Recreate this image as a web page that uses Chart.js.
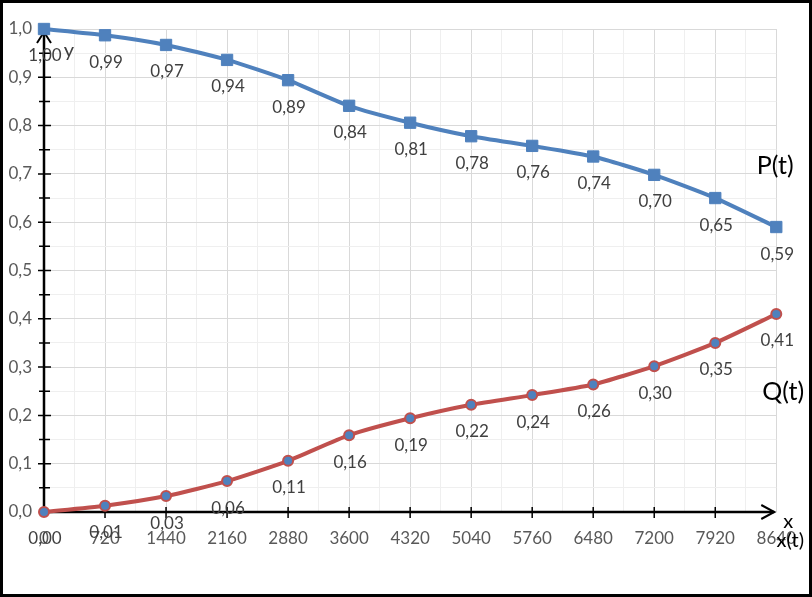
<!DOCTYPE html>
<html>
<head>
<meta charset="utf-8">
<script src="https://cdn.jsdelivr.net/npm/chart.js@4.4.0/dist/chart.umd.min.js"></script>
<style>
html, body { margin: 0; padding: 0; background: #fff; }
</style>
</head>
<body>
<canvas id="chart" width="812" height="597"></canvas>
<script>
// temps (x) et probabilites P(t), Q(t)
const xValues = [0, 720, 1440, 2160, 2880, 3600, 4320, 5040, 5760, 6480, 7200, 7920, 8640];
const pValues = [1.000, 0.987, 0.967, 0.936, 0.894, 0.841, 0.806, 0.778, 0.758, 0.736, 0.698, 0.650, 0.590];
const qValues = [0.000, 0.013, 0.033, 0.064, 0.106, 0.159, 0.194, 0.222, 0.242, 0.264, 0.302, 0.350, 0.410];
const yTickValues = [0, 0.05, 0.1, 0.15, 0.2, 0.25, 0.3, 0.35, 0.4, 0.45, 0.5, 0.55, 0.6, 0.65, 0.7, 0.75, 0.8, 0.85, 0.9, 0.95, 1.0];
const seriesNames = ['P(t)', 'Q(t)'];

const FONT = 'Lato';

function virgule(v, d) {
	return v.toFixed(d).replace('.', ',');
}

// grille secondaire : milieux entre deux valeurs de x
const xTickValues = [];
xValues.forEach(function(v, i) {
	xTickValues.push(v);
	if (i < xValues.length - 1) xTickValues.push((v + xValues[i + 1]) / 2);
});

const axes = {
	id: 'axes',
	beforeDatasetsDraw: function(chart) {
		const ctx = chart.ctx, a = chart.chartArea;
		const x = chart.scales.x, y = chart.scales.y;
		const x0 = x.getPixelForValue(0), y0 = y.getPixelForValue(0);
		ctx.save();
		ctx.strokeStyle = '#000';
		ctx.lineWidth = 2.5;
		ctx.beginPath();
		ctx.moveTo(x0, a.bottom);
		ctx.lineTo(x0, a.top + 2);
		ctx.moveTo(a.left, y0);
		ctx.lineTo(a.right - 2, y0);
		ctx.stroke();
		// fleches
		ctx.lineWidth = 2;
		ctx.beginPath();
		ctx.moveTo(x0 - 7, a.top + 14);
		ctx.lineTo(x0, a.top + 3);
		ctx.lineTo(x0 + 7, a.top + 14);
		ctx.moveTo(a.right - 15, y0 - 7);
		ctx.lineTo(a.right - 2, y0);
		ctx.lineTo(a.right - 15, y0 + 7);
		ctx.stroke();
		// graduations
		ctx.lineWidth = 1.5;
		ctx.beginPath();
		yTickValues.forEach(function(v, i) {
			if (i === 0 || i === yTickValues.length - 1) return;
			const py = y.getPixelForValue(v);
			if (i % 2 === 0) { ctx.moveTo(x0 - 6, py); ctx.lineTo(x0 + 7, py); }
			else { ctx.moveTo(x0 - 5, py); ctx.lineTo(x0 + 6, py); }
		});
		xValues.forEach(function(v, i) {
			if (i === 0 || i === xValues.length - 1) return;
			const px = x.getPixelForValue(v);
			ctx.moveTo(px, y0 - 5);
			ctx.lineTo(px, y0 + 6);
		});
		ctx.stroke();
		ctx.restore();
	},
	afterDatasetsDraw: function(chart) {
		const ctx = chart.ctx;
		ctx.save();
		ctx.font = '17px ' + FONT;
		ctx.fillStyle = '#404040';
		ctx.textAlign = 'center';
		ctx.textBaseline = 'middle';
		chart.data.datasets.forEach(function(ds, i) {
			chart.getDatasetMeta(i).data.forEach(function(pt, j) {
				ctx.fillText(virgule(ds.data[j].y, 2), pt.x + 1, pt.y + 27);
			});
		});
		ctx.restore();
	},
	afterDraw: function(chart) {
		const ctx = chart.ctx, a = chart.chartArea;
		const x = chart.scales.x, y = chart.scales.y;
		const last = xValues.length - 1;
		ctx.save();
		ctx.textAlign = 'center';
		ctx.textBaseline = 'middle';
		ctx.fillStyle = '#404040';
		ctx.font = '20px ' + FONT;
		ctx.fillText('y', x.getPixelForValue(0) + 25, a.top + 22);
		ctx.fillStyle = '#000';
		ctx.fillText('x', a.right + 12, y.getPixelForValue(0) + 10);
		ctx.fillText('x(t)', a.right + 14, y.getPixelForValue(0) + 29);
		ctx.font = '25px ' + FONT;
		ctx.fillText(seriesNames[0], a.right - 1, y.getPixelForValue(pValues[last]) - 61);
		ctx.fillText(seriesNames[1], a.right + 7, y.getPixelForValue(qValues[last]) + 78);
		// cadre
		ctx.strokeStyle = '#000';
		ctx.lineWidth = 3;
		ctx.strokeRect(1.5, 1.5, chart.width - 3, chart.height - 3);
		ctx.restore();
	}
};

new Chart(document.getElementById('chart'), {
	type: 'line',
	plugins: [axes],
	data: {
		datasets: [{
			label: seriesNames[0],
			data: xValues.map(function(v, i) { return {x: v, y: pValues[i]}; }),
			borderColor: '#4F81BD',
			backgroundColor: '#4F81BD',
			borderWidth: 4,
			pointStyle: 'rect',
			pointRadius: 8,
			pointBorderWidth: 1,
			pointBorderColor: '#4F81BD',
			pointBackgroundColor: '#4F81BD',
			tension: 0.2,
			clip: false
		}, {
			label: seriesNames[1],
			data: xValues.map(function(v, i) { return {x: v, y: qValues[i]}; }),
			borderColor: '#C0504D',
			backgroundColor: '#4F81BD',
			borderWidth: 4,
			pointStyle: 'circle',
			pointRadius: 5,
			pointBorderWidth: 2,
			pointBorderColor: '#C0504D',
			pointBackgroundColor: '#4F81BD',
			tension: 0.2,
			clip: false
		}]
	},
	options: {
		responsive: false,
		animation: false,
		layout: { padding: { top: 29, right: 29, left: 0, bottom: 0 } },
		plugins: { legend: { display: false }, tooltip: { enabled: false } },
		scales: {
			x: {
				type: 'linear',
				min: xValues[0],
				max: xValues[xValues.length - 1],
				afterBuildTicks: function(s) { s.ticks = xTickValues.map(function(v) { return {value: v}; }); },
				afterFit: function(s) { s.height = 85; },
				border: { display: false },
				grid: {
					tickLength: 0,
					color: function(c) { return xValues.indexOf(c.tick.value) >= 0 ? '#D9D9D9' : '#EFEFEF'; }
				},
				ticks: {
					autoSkip: false,
					maxRotation: 0,
					padding: 16,
					color: '#595959',
					font: { family: FONT, size: 17 },
					callback: function(v) { return xValues.indexOf(v) >= 0 ? String(v) : ''; }
				}
			},
			y: {
				min: 0,
				max: 1,
				afterBuildTicks: function(s) { s.ticks = yTickValues.map(function(v) { return {value: v}; }); },
				afterFit: function(s) { s.width = 44; },
				border: { display: false },
				grid: {
					tickLength: 0,
					color: function(c) { return c.index % 2 === 0 ? '#D9D9D9' : '#EFEFEF'; }
				},
				ticks: {
					autoSkip: false,
					padding: 12,
					color: '#595959',
					font: { family: FONT, size: 17 },
					callback: function(v, i) { return i % 2 === 0 ? virgule(v, 1) : ''; }
				}
			}
		}
	}
});
</script>
</body>
</html>
